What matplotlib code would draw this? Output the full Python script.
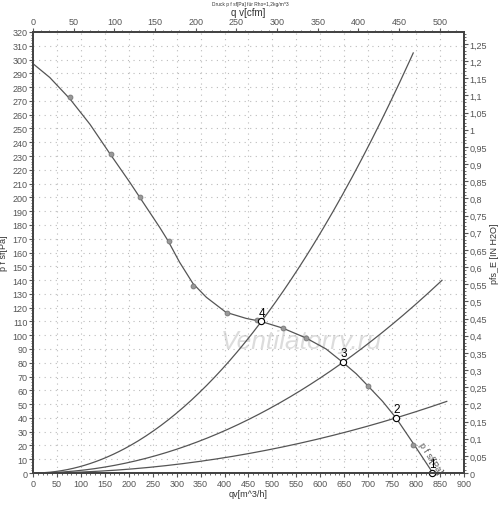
import numpy as np
import matplotlib.pyplot as plt
from matplotlib.ticker import MultipleLocator, FuncFormatter

# fan curve p f sf [Pa] over qv [m^3/h]
fan_q = [0, 35, 77, 119, 160, 202, 223, 265, 282, 306, 334, 362, 403,
         445, 476, 521, 570, 612, 647, 675, 700, 730, 758, 795, 835]
fan_p = [297, 287, 271.5, 253, 232, 211, 200, 178, 168.5, 153, 137.5, 127.5, 116.6,
         112.2, 110, 105.2, 98, 90, 80.3, 72, 63, 52, 40, 21, 0]

# measured points (grey dots)
meas_q = [77, 162, 223, 283, 335, 406, 467, 521, 571, 700, 794]
meas_p = [273, 231.5, 200, 168, 136, 116, 111, 105, 98, 63, 20]

# operating points 1..4
op_names = ['1', '2', '3', '4']
op_q = [833, 758, 648, 477]
op_p = [0, 40, 80.5, 110]

# system curves through points 4, 3, 2 (end flow)
sys_q = [794, 854, 864]
sys_ref = [(477, 110), (648, 80.5), (758, 40)]

PA_PER_INH2O = 249.089
M3H_PER_CFM = 1.699

grey = '#555555'
fs = 6.5
plt.rcParams['font.family'] = ['Liberation Sans', 'DejaVu Sans']

fig = plt.figure(figsize=(5.0, 5.06), dpi=100)
ax = fig.add_axes([0.066, 0.0632, 0.862, 0.8716])

ax.set_xlim(0, 900)
ax.set_ylim(0, 320)
ax.xaxis.set_major_locator(MultipleLocator(50))
ax.xaxis.set_minor_locator(MultipleLocator(10))
ax.yaxis.set_major_locator(MultipleLocator(10))
ax.yaxis.set_minor_locator(MultipleLocator(2))
ax.grid(True, which='major', color='#bbbbbb', linestyle=(0, (1, 4)), linewidth=0.8)
ax.tick_params(which='both', direction='out', colors=grey, labelsize=fs, pad=1)
ax.tick_params(which='major', length=3)
ax.tick_params(which='minor', length=1.5)
ax.set_xlabel('qv[m^3/h]', fontsize=fs, color='#333333', labelpad=1)
ax.set_ylabel('p f sf[Pa]', fontsize=fs, color='#333333')
ax.yaxis.set_label_coords(-0.058, 0.5)
for s in ax.spines.values():
    s.set_color('#444444')
    s.set_linewidth(1.2)

# system curves
for qe, (q0, p0) in zip(sys_q, sys_ref):
    k = p0 / q0 ** 2
    q = np.linspace(0, qe, 200)
    ax.plot(q, k * q ** 2, color=grey, lw=0.9)

# fan curve
ax.plot(fan_q, fan_p, color=grey, lw=0.9)
ax.plot(meas_q, meas_p, 'o', ms=3.5, mfc='#999999', mec='#777777', mew=0.6)

# operating points
ax.plot(op_q, op_p, 'o', ms=4.5, mfc='white', mec='black', mew=0.8, clip_on=False, zorder=5)
for n, q, p in zip(op_names, op_q, op_p):
    ax.annotate(n, (q, p), xytext=(0.5, 2), textcoords='offset points',
                fontsize=8.5, color='black', ha='center', va='bottom', zorder=6)

ax.text(831, 11, 'p f sf[Pa]', rotation=-57, fontsize=fs, color=grey,
        ha='center', va='center')

# watermark
ax.text(560, 96, 'Ventilatorry.ru', fontsize=19, style='italic',
        color='#dcdcdc', ha='center', va='center', zorder=0.5)

comma = FuncFormatter(lambda v, pos: ('%g' % round(v, 3)).replace('.', ','))

# right axis in IN H2O
ax_r = ax.twinx()
ax_r.set_ylim(0, 320 / PA_PER_INH2O)
ax_r.yaxis.set_major_locator(MultipleLocator(0.05))
ax_r.yaxis.set_minor_locator(MultipleLocator(0.01))
ax_r.yaxis.set_major_formatter(comma)
ax_r.tick_params(which='both', direction='out', colors=grey, labelsize=fs, pad=1)
ax_r.tick_params(which='major', length=3)
ax_r.tick_params(which='minor', length=1.5)
ax_r.set_ylabel('pfs_E [IN H2O]', fontsize=fs, color='#333333')
ax_r.yaxis.set_label_coords(1.06, 0.5)

# top axis in cfm
ax_t = ax.twiny()
ax_t.set_xlim(0, 900 / M3H_PER_CFM)
ax_t.xaxis.set_major_locator(MultipleLocator(50))
ax_t.xaxis.set_minor_locator(MultipleLocator(10))
ax_t.tick_params(which='both', direction='out', colors=grey, labelsize=fs, pad=1)
ax_t.tick_params(which='major', length=3)
ax_t.tick_params(which='minor', length=1.5)
ax_t.set_xlabel('q v[cfm]', fontsize=fs + 0.5, color='#333333', labelpad=2)
for a in (ax_r, ax_t):
    for s in a.spines.values():
        s.set_color('#444444')
        s.set_linewidth(1.2)

fig.text(0.5, 0.992, 'Druck p f sf[Pa] für Rho=1,2kg/m^3', fontsize=3.5,
         color='#333333', ha='center', va='center')

fig.savefig('out.png', dpi=100)
